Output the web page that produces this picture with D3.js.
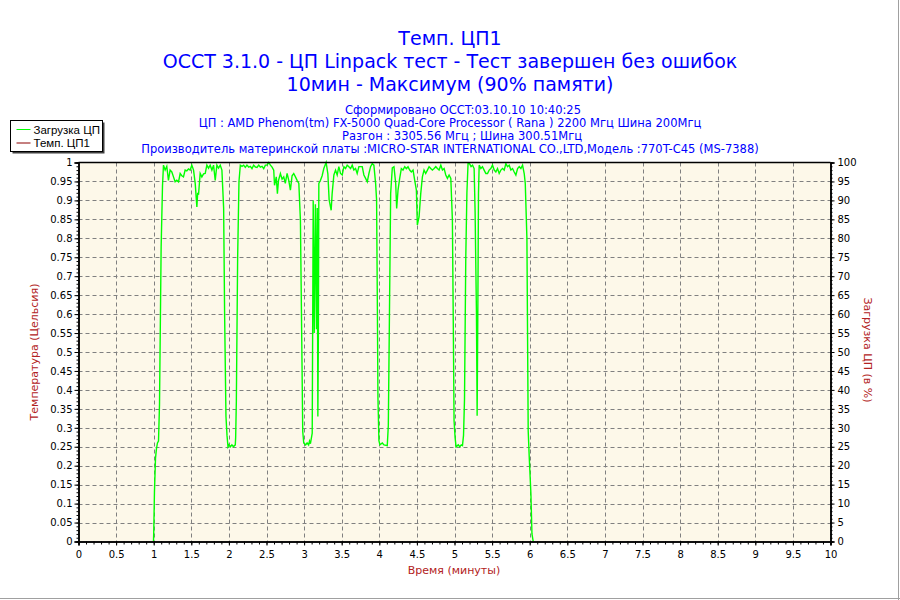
<!DOCTYPE html>
<html>
<head>
<meta charset="utf-8">
<script src="https://cdn.jsdelivr.net/npm/d3@7"></script>
<style>
  body { margin: 0; background: #fff; }
  svg { display: block; font-family: "DejaVu Sans", sans-serif; }
</style>
</head>
<body>
<svg id="mysvg"></svg>
<script>
const w = 900, h = 600;

const titleLines = [
    "Темп. ЦП1",
    "OCCT 3.1.0 - ЦП Linpack тест - Тест завершен без ошибок",
    "10мин - Максимум (90% памяти)"
];
const infoLines = [
    "Сформировано OCCT:03.10.10 10:40:25",
    "ЦП : AMD Phenom(tm) FX-5000 Quad-Core Processor ( Rana ) 2200 Мгц Шина 200Мгц",
    "Разгон : 3305.56 Мгц ; Шина 300.51Мгц",
    "Производитель материнской платы :MICRO-STAR INTERNATIONAL CO.,LTD,Модель :770T-C45 (MS-7388)"
];
const legendNames = ["Загрузка ЦП", "Темп. ЦП1"];

const xTicks = [0, 0.5, 1, 1.5, 2, 2.5, 3, 3.5, 4, 4.5, 5, 5.5, 6, 6.5, 7, 7.5, 8, 8.5, 9, 9.5, 10];
const tempTicks = [0, 0.05, 0.1, 0.15, 0.2, 0.25, 0.3, 0.35, 0.4, 0.45, 0.5, 0.55, 0.6, 0.65, 0.7,
    0.75, 0.8, 0.85, 0.9, 0.95, 1];
const loadTicks = [0, 5, 10, 15, 20, 25, 30, 35, 40, 45, 50, 55, 60, 65, 70, 75, 80, 85, 90, 95, 100];

// время (мин) и загрузка ЦП (%)
const loadMinutes = [
    0.997, 1.0, 1.01, 1.024, 1.037, 1.05, 1.064, 1.077, 1.099, 1.117, 1.13, 1.152, 1.174, 1.196, 1.218,
    1.241, 1.263, 1.285, 1.307, 1.33, 1.352, 1.374, 1.396, 1.418, 1.44, 1.463, 1.485, 1.507, 1.53, 1.552,
    1.574, 1.585, 1.596, 1.618, 1.64, 1.663, 1.685, 1.707, 1.729, 1.751, 1.774, 1.796, 1.818, 1.84, 1.862,
    1.885, 1.907, 1.93, 1.943, 1.961, 1.975, 1.988, 2.0, 2.02, 2.04, 2.06, 2.085, 2.09, 2.099, 2.116,
    2.134, 2.152, 2.174, 2.196, 2.218, 2.24, 2.263, 2.285, 2.307, 2.329, 2.352, 2.374, 2.396, 2.418, 2.441,
    2.463, 2.485, 2.507, 2.53, 2.552, 2.574, 2.596, 2.607, 2.63, 2.645, 2.66, 2.685, 2.707, 2.729, 2.75,
    2.774, 2.796, 2.818, 2.84, 2.862, 2.885, 2.907, 2.93, 2.951, 2.965, 2.982, 2.995, 3.02, 3.04, 3.06,
    3.072, 3.084, 3.108, 3.121, 3.135, 3.15, 3.165, 3.175, 3.183, 3.19, 3.196, 3.218, 3.24, 3.262, 3.293,
    3.316, 3.333, 3.36, 3.373, 3.396, 3.418, 3.44, 3.462, 3.484, 3.507, 3.529, 3.551, 3.573, 3.595, 3.618,
    3.64, 3.662, 3.684, 3.706, 3.729, 3.751, 3.773, 3.795, 3.818, 3.84, 3.862, 3.884, 3.906, 3.928, 3.951,
    3.964, 3.975, 3.982, 3.995, 4.008, 4.04, 4.062, 4.106, 4.12, 4.135, 4.151, 4.173, 4.195, 4.218, 4.231,
    4.249, 4.271, 4.293, 4.315, 4.338, 4.36, 4.382, 4.404, 4.426, 4.449, 4.471, 4.493, 4.506, 4.529, 4.551,
    4.573, 4.595, 4.617, 4.64, 4.662, 4.684, 4.706, 4.729, 4.751, 4.773, 4.795, 4.818, 4.84, 4.862, 4.884,
    4.906, 4.928, 4.951, 4.972, 4.985, 4.994, 5.008, 5.021, 5.05, 5.07, 5.09, 5.106, 5.12, 5.133, 5.15,
    5.165, 5.18, 5.2, 5.22, 5.24, 5.261, 5.274, 5.292, 5.301, 5.31, 5.319, 5.328, 5.35, 5.372, 5.394,
    5.417, 5.439, 5.461, 5.483, 5.505, 5.528, 5.55, 5.572, 5.594, 5.616, 5.639, 5.661, 5.683, 5.705, 5.727,
    5.75, 5.772, 5.794, 5.816, 5.839, 5.861, 5.883, 5.905, 5.927, 5.941, 5.963, 5.98, 5.994, 6.016, 6.03,
    6.047
];
const loadPercent = [
    0, 2, 13, 22, 24.5, 26, 26.5, 36, 77.8, 93.8, 99.3, 98, 99, 95.3, 98,
    97.5, 96.2, 94.9, 95.3, 94.9, 97.1, 96.5, 96.2, 98, 97.8, 98.3, 98, 99.3, 98, 94.5,
    88.3, 92, 91.5, 97.1, 96.2, 97, 97.1, 99.3, 98.5, 99.3, 98, 99.3, 95.3, 99.3, 98.5,
    99.3, 98, 88, 60, 33, 28, 25, 25.5, 25, 25.5, 25, 25.5, 27.5, 37, 74.5,
    95, 99.3, 99, 99.3, 98.7, 99.3, 98.8, 99, 98.4, 99.3, 98.8, 98.7, 99.3, 98.8, 99,
    98.4, 99.3, 99.3, 100, 99.3, 98.8, 98, 94, 96.2, 91.8, 95.3, 97.1, 95.6, 96.2, 94.5,
    97.1, 95.3, 92.7, 96.5, 97.1, 96.2, 95.3, 94.5, 84.8, 60, 29, 26, 25.5, 26, 25.5,
    26.5, 25.8, 28.6, 90, 55, 89, 56, 88, 33, 55, 94.5, 95.3, 96.5, 98.4, 100,
    97, 90.1, 87.4, 91.8, 96.7, 98, 96.7, 98.9, 97.1, 96.7, 98.9, 98.4, 99.3, 98.9, 98.4,
    99.3, 98, 98.4, 97.1, 98.9, 98.9, 98.9, 96.7, 95.8, 94.9, 97.1, 98.9, 99.7, 99.3, 94.5,
    90.1, 60, 38, 26.6, 25.5, 26, 25.5, 25.3, 30.6, 60, 91.8, 98.6, 98.9, 94.5, 87.9,
    92.7, 95.8, 98.4, 98, 98.9, 98.4, 98.9, 98, 97.5, 98, 95.3, 92.7, 83.5, 85.7, 91.8,
    96.2, 98, 97.1, 98, 98.9, 98.4, 98, 98.4, 98.9, 98.4, 98, 99.3, 98, 98.4, 96.7,
    95.8, 96.7, 95.8, 84.8, 55, 31.9, 27.4, 25, 25.5, 25, 25.5, 25.3, 28, 37.5, 75,
    92, 99.7, 99.7, 98.9, 99.3, 98.4, 87, 60, 33.2, 60, 91.8, 99.3, 98.4, 98.9, 98,
    97.1, 97.1, 98, 98.4, 99.3, 98, 97.5, 98.4, 97.1, 98, 98.4, 98, 99.7, 98.9, 99.3,
    98, 98.4, 97.5, 96.7, 98.4, 98.9, 98.4, 99.3, 97.1, 94.5, 79.9, 29.2, 22.2, 12.6, 2,
    0
];

const plotLeft = 78.5, plotRight = 830.5, plotTop = 162.5, plotBottom = 541.5;

const svg = d3.select("#mysvg")
    .attr("width", w)
    .attr("height", h);

// рамка картинки (серая справа и снизу)
svg.append("line").attr("x1", w - 1.5).attr("x2", w - 1.5).attr("y1", 0).attr("y2", h)
    .attr("stroke", "#a0a0a0").attr("stroke-width", 1);
svg.append("line").attr("x1", 0).attr("x2", w).attr("y1", h - 1.5).attr("y2", h - 1.5)
    .attr("stroke", "#a0a0a0").attr("stroke-width", 1);

const xScale = d3.scaleLinear().domain([0, 10]).range([plotLeft, plotRight]);
const tempScale = d3.scaleLinear().domain([0, 1]).range([plotBottom, plotTop]);
const loadScale = d3.scaleLinear().domain([0, 100]).range([plotBottom, plotTop]);

// plot background
svg.append("rect")
    .attr("x", plotLeft).attr("y", plotTop)
    .attr("width", plotRight - plotLeft).attr("height", plotBottom - plotTop)
    .attr("fill", "#fdf8e9");

// grid
svg.append("g")
    .selectAll("line")
    .data(xTicks.slice(1, -1))
    .enter().append("line")
    .attr("x1", d => Math.round(xScale(d)) + 0.5)
    .attr("x2", d => Math.round(xScale(d)) + 0.5)
    .attr("y1", plotTop).attr("y2", plotBottom)
    .attr("stroke", "#808080")
    .attr("stroke-dasharray", "4,3");

svg.append("g")
    .selectAll("line")
    .data(loadTicks.slice(1, -1))
    .enter().append("line")
    .attr("x1", plotLeft).attr("x2", plotRight)
    .attr("y1", d => Math.round(loadScale(d)) + 0.5)
    .attr("y2", d => Math.round(loadScale(d)) + 0.5)
    .attr("stroke", "#808080")
    .attr("stroke-dasharray", "4,3");

// load line
const line = d3.line()
    .x(d => xScale(d[0]))
    .y(d => loadScale(d[1]));

svg.append("path")
    .datum(loadMinutes.map((t, i) => [t, loadPercent[i]]))
    .attr("fill", "none")
    .attr("stroke", "#00ff00")
    .attr("stroke-width", 1.4)
    .attr("d", line);

// top border
svg.append("line")
    .attr("x1", plotLeft).attr("x2", plotRight)
    .attr("y1", plotTop).attr("y2", plotTop)
    .attr("stroke", "#000").attr("stroke-width", 1.5);

const fmt = d => String(+d.toFixed(2));

function styleAxis(g) {
    g.selectAll(".domain").attr("stroke", "#000").attr("stroke-width", 1.5);
    g.selectAll(".tick line").attr("stroke", "#000");
    g.selectAll("text")
        .attr("fill", "#000")
        .style("font-family", "DejaVu Sans, sans-serif")
        .style("font-size", "10px");
}

// minor ticks
svg.append("g")
    .attr("transform", "translate(0," + plotBottom + ")")
    .call(d3.axisBottom(xScale).tickValues(d3.range(0, 101).map(i => i / 10))
        .tickSize(3).tickFormat(""))
    .call(styleAxis);
svg.append("g")
    .attr("transform", "translate(" + plotLeft + ",0)")
    .call(d3.axisLeft(tempScale).tickValues(d3.range(0, 101).map(i => i / 100))
        .tickSize(2).tickFormat(""))
    .call(styleAxis);
svg.append("g")
    .attr("transform", "translate(" + plotRight + ",0)")
    .call(d3.axisRight(loadScale).tickValues(d3.range(0, 101))
        .tickSize(2).tickFormat(""))
    .call(styleAxis);

// Create X axis
svg.append("g")
    .attr("class", "x axis")
    .attr("transform", "translate(0," + plotBottom + ")")
    .call(d3.axisBottom(xScale).tickValues(xTicks).tickSize(4).tickPadding(5).tickFormat(fmt))
    .call(styleAxis);

// Create Y axes
svg.append("g")
    .attr("class", "y axis")
    .attr("transform", "translate(" + plotLeft + ",0)")
    .call(d3.axisLeft(tempScale).tickValues(tempTicks).tickSize(4).tickPadding(2).tickFormat(fmt))
    .call(styleAxis);

svg.append("g")
    .attr("class", "y axis")
    .attr("transform", "translate(" + plotRight + ",0)")
    .call(d3.axisRight(loadScale).tickValues(loadTicks).tickSize(4).tickPadding(3).tickFormat(fmt))
    .call(styleAxis);

// titles
svg.selectAll(".title")
    .data(titleLines)
    .enter().append("text")
    .attr("class", "title")
    .attr("x", 450)
    .attr("y", (d, i) => 45 + i * 23)
    .attr("text-anchor", "middle")
    .attr("fill", "#0000ff")
    .style("font-size", "19px")
    .text(d => d);

const infoCenters = [463, 450, 462, 450];
svg.selectAll(".info")
    .data(infoLines)
    .enter().append("text")
    .attr("class", "info")
    .attr("x", (d, i) => infoCenters[i])
    .attr("y", (d, i) => 113.5 + i * 13.3)
    .attr("text-anchor", "middle")
    .attr("fill", "#0000ff")
    .style("font-size", "11.5px")
    .text(d => d);

// axis titles
svg.append("text")
    .attr("x", 454).attr("y", 574)
    .attr("text-anchor", "middle")
    .attr("fill", "#b22222")
    .style("font-size", "11px")
    .text("Время (минуты)");

svg.append("text")
    .attr("transform", "translate(38,352) rotate(-90)")
    .attr("text-anchor", "middle")
    .attr("fill", "#b22222")
    .style("font-size", "11px")
    .text("Температура (Цельсия)");

svg.append("text")
    .attr("transform", "translate(864,350) rotate(90)")
    .attr("text-anchor", "middle")
    .attr("fill", "#b22222")
    .style("font-size", "11px")
    .text("Загрузка ЦП (в %)");

// legend
const legend = svg.append("g").attr("transform", "translate(10.5,120.5)");
legend.append("rect")
    .attr("x", 2).attr("y", 2).attr("width", 92).attr("height", 31)
    .attr("fill", "#404040");
legend.append("rect")
    .attr("width", 92).attr("height", 31)
    .attr("fill", "#fff").attr("stroke", "#000");
const legendColors = ["#00ff00", "#8b0000"];
legendNames.forEach((name, i) => {
    legend.append("line")
        .attr("x1", 6).attr("x2", 20)
        .attr("y1", 9 + i * 13.5).attr("y2", 9 + i * 13.5)
        .attr("stroke", legendColors[i]);
    legend.append("text")
        .attr("x", 23).attr("y", 13 + i * 13.5)
        .attr("fill", "#000")
        .style("font-family", "Liberation Sans, sans-serif")
        .style("font-size", "11.5px")
        .text(name);
});
</script>
</body>
</html>
